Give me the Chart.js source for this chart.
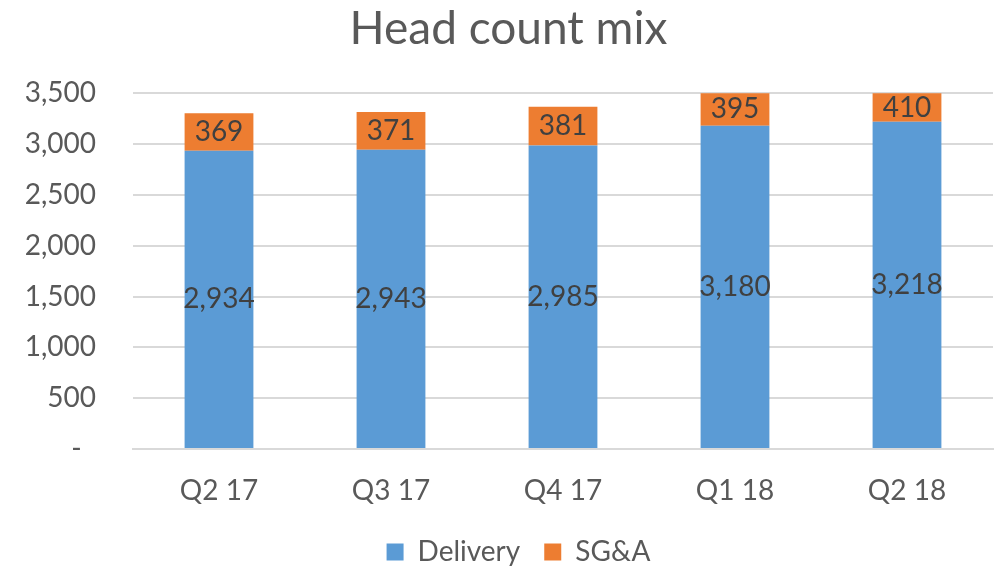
<!DOCTYPE html>
<html>
<head>
<meta charset="utf-8">
<script src="https://cdn.jsdelivr.net/npm/chart.js@4"></script>
<style>
  html, body { margin: 0; padding: 0; background: #fff; }
  #wrap { width: 1002px; height: 567px; }
</style>
</head>
<body>
<div id="wrap"><canvas id="myChart" width="1002" height="567"></canvas></div>
<script>
const quarters = ["Q2 17", "Q3 17", "Q4 17", "Q1 18", "Q2 18"];
const delivery = [2934, 2943, 2985, 3180, 3218];
const sga = [369, 371, 381, 395, 410];
const yTicks = [0, 500, 1000, 1500, 2000, 2500, 3000, 3500];

const FONT = "Lato, 'Open Sans', sans-serif";
const grey = "#595959";

// draws the value in the middle of the visible part of each bar
const barLabels = {
  id: "barLabels",
  afterDatasetsDraw(chart) {
    const ctx = chart.ctx;
    const area = chart.chartArea;
    ctx.save();
    ctx.font = "28px " + FONT;
    ctx.fillStyle = "#404040";
    ctx.textAlign = "center";
    ctx.textBaseline = "middle";
    chart.data.datasets.forEach((ds, i) => {
      const meta = chart.getDatasetMeta(i);
      meta.data.forEach((bar, j) => {
        const top = Math.max(bar.y, area.top);
        const bottom = Math.min(bar.base, area.bottom);
        ctx.fillText(ds.data[j].toLocaleString("en-US"), bar.x, (top + bottom) / 2);
      });
    });
    ctx.restore();
  }
};

// nudge the legend a bit to the right, like the original
const legendShift = {
  id: "legendShift",
  afterLayout(chart) {
    chart.legend.left += 10;
    chart.legend.right += 10;
  }
};

const ctx = document.getElementById("myChart").getContext("2d");
new Chart(ctx, {
  type: "bar",
  data: {
    labels: quarters,
    datasets: [
      { label: "Delivery", data: delivery, backgroundColor: "#5B9BD5", barPercentage: 0.4, categoryPercentage: 1 },
      { label: "SG&A", data: sga, backgroundColor: "#ED7D31", barPercentage: 0.4, categoryPercentage: 1 }
    ]
  },
  options: {
    responsive: false,
    animation: false,
    layout: { padding: { left: 24, right: 9, top: 0, bottom: -9 } },
    plugins: {
      title: {
        display: true,
        text: "Head count mix",
        color: grey,
        font: { family: FONT, size: 46, weight: "normal" },
        padding: { top: 2, bottom: 36 }
      },
      legend: {
        position: "bottom",
        labels: {
          color: grey,
          font: { family: FONT, size: 28 },
          boxWidth: 17,
          boxHeight: 17,
          padding: 24
        }
      },
      tooltip: { enabled: false }
    },
    scales: {
      x: {
        stacked: true,
        grid: { display: false },
        border: { color: "#D9D9D9", width: 2 },
        ticks: { color: grey, font: { family: FONT, size: 28 }, padding: 17 },
        afterFit(axis) { axis.height = 65; }
      },
      y: {
        stacked: true,
        min: 0,
        max: 3500,
        afterBuildTicks(axis) { axis.ticks = yTicks.map(v => ({ value: v })); },
        grid: { color: "#D9D9D9", lineWidth: 2, drawTicks: false },
        border: { display: false },
        ticks: {
          color: grey,
          font: { family: FONT, size: 28 },
          padding: 37,
          callback: v => v === 0 ? "-  " : v.toLocaleString("en-US")
        },
        afterFit(axis) { axis.width = 109; }
      }
    }
  },
  plugins: [barLabels, legendShift]
});
</script>
</body>
</html>
